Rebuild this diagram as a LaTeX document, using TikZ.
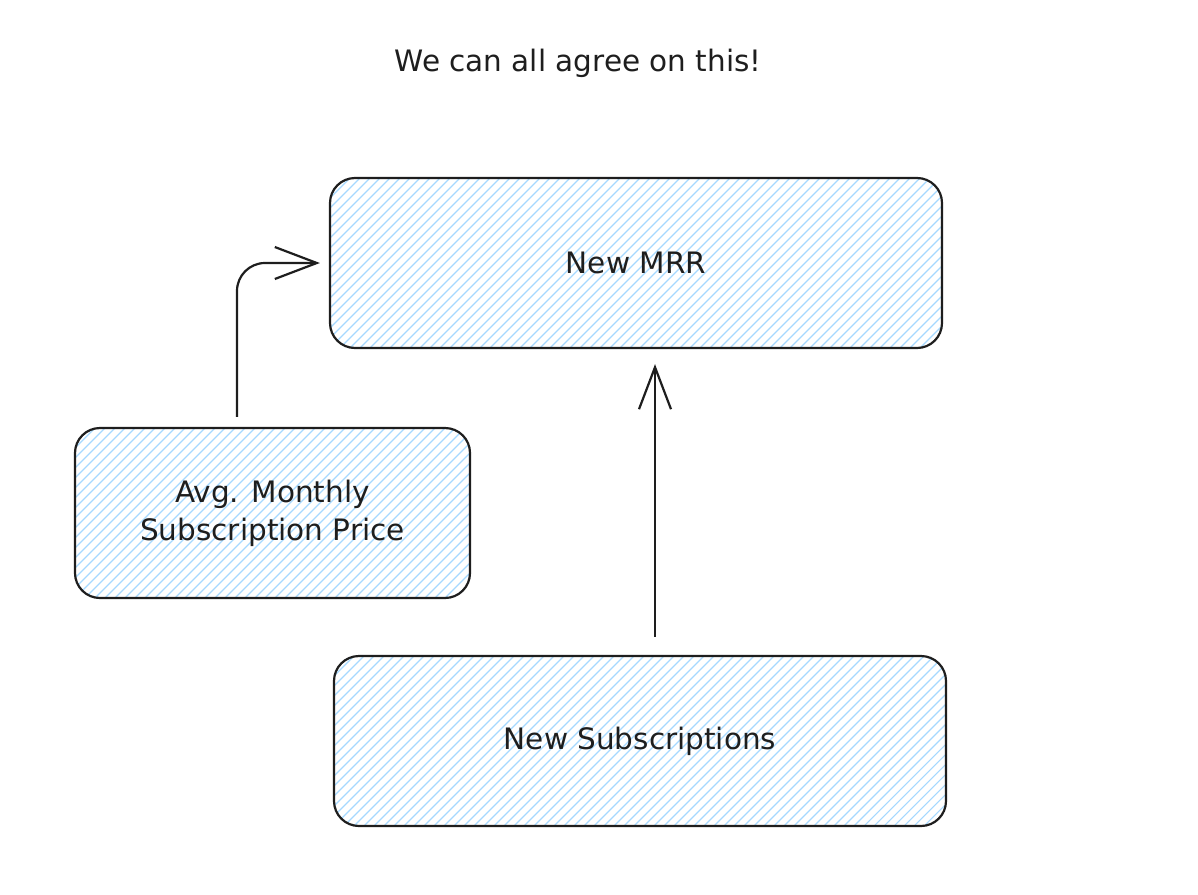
\documentclass[tikz,border=0pt]{standalone}
\usepackage{fontspec}
\setmainfont{DejaVu Sans}
\usetikzlibrary{arrows.meta}
\definecolor{hatch}{HTML}{A5D8FF}
\definecolor{ink}{HTML}{1E1E1E}
\tikzset{
  box/.style={draw=ink, line width=2.2pt, rounded corners=25pt, inner sep=0pt,
    font=\fontsize{29.5}{38}\selectfont, text=ink, align=center},
  hatchline/.style={draw=hatch, line width=1.1pt},
  conn/.style={draw=ink, line width=2.2pt, -{Straight Barb[length=42pt,width=32pt,line width=2.2pt]}},
  title/.style={font=\fontsize{29.5}{34}\selectfont, text=ink},
}
\newcommand\hatchrect[4]{%
  \begin{scope}
    \clip[rounded corners=25pt] (#1,#2) rectangle (#3,#4);
    \pgfmathsetmacro\hh{#4-#2}
    \foreach \s in {-180,-170,...,630} {\draw[hatchline] (#1+\s,#4) -- ++(\hh,-\hh);}
  \end{scope}}
\begin{document}
\begin{tikzpicture}[x=1pt,y=-1pt]
  \useasboundingbox (0,0) rectangle (1198,894);
  \hatchrect{330}{178}{942}{348}
  \hatchrect{75}{428}{470}{598}
  \hatchrect{334}{656}{946}{826}
  \node[title] (t) at (578,63) {We can all agree on this!};
  \node[box, minimum width=612pt, minimum height=170pt] (mrr) at (636,263) {New MRR};
  \node[box, minimum width=395pt, minimum height=170pt] (avg) at (272.5,513) {Avg. Monthly\\Subscription Price};
  \node[box, minimum width=612pt, minimum height=170pt] (subs) at (640,741) {New Subscriptions};
  \draw[conn, rounded corners=28pt] ([xshift=-35.5pt,yshift=10pt]avg.north) |- ([xshift=-9pt]mrr.west);
  \draw[conn] ([xshift=15pt,yshift=18pt]subs.north) -- ([xshift=19pt,yshift=-15pt]mrr.south);
\end{tikzpicture}
\end{document}
